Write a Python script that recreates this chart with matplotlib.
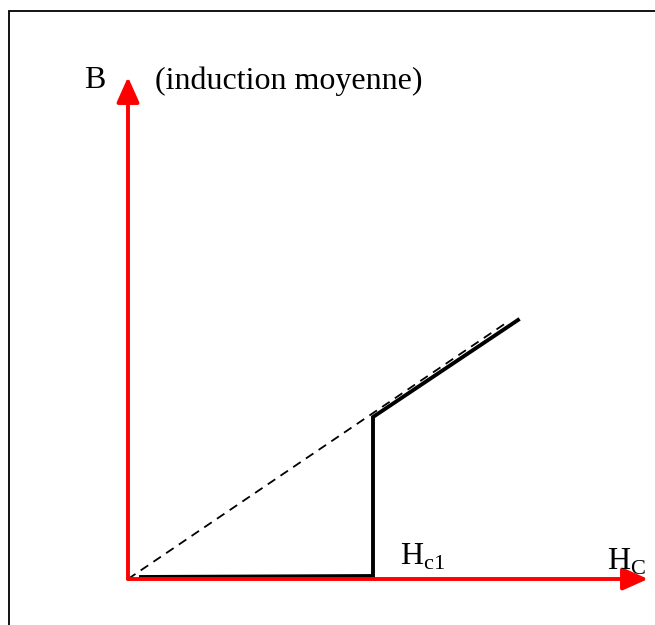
#courbe B(H) - supraconducteur, transition a Hc1
import matplotlib.pyplot as plt
from matplotlib.patches import Rectangle

plt.rcParams['font.family'] = ['Liberation Serif', 'DejaVu Serif']

#data (unites arbitraires, 1 unite ~ 100 px)
H_solid = [0.13, 2.45, 2.45, 3.90]
B_solid = [0.02, 0.03, 1.62, 2.59]

H_dash = [0.0, 3.78]
B_dash = [0.0, 2.56]

H_axis_end = 5.20
B_axis_end = 5.02
Hc1 = 2.45

fig = plt.figure(figsize=(6.55, 6.25), dpi=100)
ax = fig.add_axes([0, 0, 1, 1])
ax.set_xlim(-1.28, 5.27)
ax.set_ylim(-0.46, 5.79)
ax.axis('off')

#cadre
fig.patches.append(Rectangle((8.5/655, -0.1), 1.2, 1 - 10.5/625 + 0.1,
                             transform=fig.transFigure, fill=False,
                             edgecolor='black', linewidth=1.3))

#axes rouges
arrow_style = '-|>,head_length=0.85,head_width=0.38'
ax.annotate('', xy=(H_axis_end, 0), xytext=(0, 0),
            arrowprops=dict(arrowstyle=arrow_style, color='red', lw=2.8,
                            shrinkA=0, shrinkB=0, mutation_scale=18))
ax.annotate('', xy=(0, B_axis_end), xytext=(0, 0),
            arrowprops=dict(arrowstyle=arrow_style, color='red', lw=2.8,
                            shrinkA=0, shrinkB=0, mutation_scale=18))

#courbes
ax.plot(H_dash, B_dash, color='black', lw=1.3, linestyle=(0, (5, 3.5)))
ax.plot(H_solid, B_solid, color='black', lw=2.8, solid_joinstyle='miter')

#textes
ax.text(-0.33, 4.98, 'B', fontsize=23, ha='center', va='center')
ax.text(0.27, 4.98, '(induction moyenne)', fontsize=23, ha='left', va='center')
ax.text(Hc1 + 0.27, 0.22, r'H$_{\mathregular{c1}}$', fontsize=23, ha='left', va='center')
ax.text(4.79, 0.17, r'H$_{\mathregular{C}}$', fontsize=23, ha='left', va='center')

fig.savefig('out.png', dpi=100)
